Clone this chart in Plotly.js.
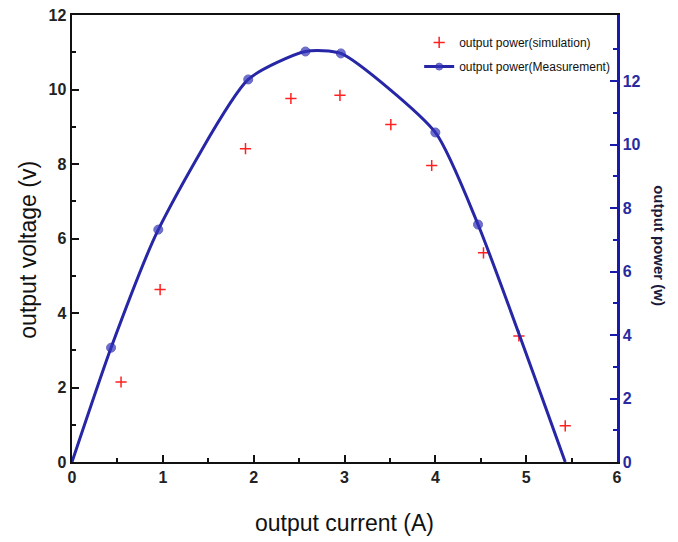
<!DOCTYPE html>
<html>
<head>
<meta charset="utf-8">
<script src="https://cdn.plot.ly/plotly-3.0.1.min.js"></script>
<style>
html,body{margin:0;padding:0;background:#fff;}
#chart{width:678px;height:542px;}
</style>
</head>
<body>
<div id="chart"></div>
<script>
// Output current (A) and output power (W)
const simCurrent = [0.54, 0.97, 1.91, 2.41, 2.95, 3.51, 3.96, 4.53, 4.92, 5.43];
const simPower   = [2.52, 5.43, 9.87, 11.45, 11.55, 10.63, 9.34, 6.59, 3.97, 1.14];

const measCurrent = [0, 0.43, 0.95, 1.94, 2.57, 2.96, 4.0, 4.47, 5.43];
const measPower   = [0, 3.60, 7.32, 12.05, 12.93, 12.87, 10.38, 7.48, 0];

const leftTicks  = [0, 2, 4, 6, 8, 10, 12];
const rightTicks = [0, 2, 4, 6, 8, 10, 12];

const simName  = 'output power(simulation)';
const measName = 'output power(Measurement)';
const xTitle = 'output current (A)';
const yTitle = 'output voltage (v)';
const y2Title = 'output power (w)';

const blue = '#2626a6';
const font = 'Arial, Liberation Sans, sans-serif';

const traces = [
  { // keeps the left voltage axis drawn
    x: [], y: [], yaxis: 'y', type: 'scatter', mode: 'markers', showlegend: false, hoverinfo: 'skip'
  },
  {
    x: simCurrent, y: simPower, yaxis: 'y2', type: 'scatter', mode: 'markers',
    name: simName, legend: 'legend',
    marker: {symbol: 'cross-thin', size: 8, color: '#ff2020', line: {color: '#ff2020', width: 1.5}}
  },
  {
    x: measCurrent, y: measPower, yaxis: 'y2', type: 'scatter', mode: 'lines+markers',
    name: measName, legend: 'legend2',
    line: {color: blue, width: 3, shape: 'spline', smoothing: 0.6},
    marker: {symbol: 'circle', size: measCurrent.map((v, i) => (i === 0 || i === measCurrent.length - 1) ? 0 : 9), color: '#3333bb'}
  }
];

const legendFont = {family: font, size: 12, color: '#111'};

const layout = {
  width: 678, height: 542,
  margin: {l: 72, r: 61, t: 15, b: 80},
  paper_bgcolor: '#fff', plot_bgcolor: '#fff',
  showlegend: true,
  legend: {x: 0.637, y: 0.971, xanchor: 'left', yanchor: 'top', bgcolor: 'rgba(0,0,0,0)', font: legendFont},
  legend2: {x: 0.637, y: 0.917, xanchor: 'left', yanchor: 'top', bgcolor: 'rgba(0,0,0,0)', font: legendFont},
  xaxis: {
    range: [0, 6], dtick: 1, tick0: 0, showgrid: false, zeroline: false,
    showline: true, linecolor: '#111', linewidth: 2, mirror: true,
    ticks: 'inside', ticklen: 7, tickwidth: 2, tickcolor: '#111',
    minor: {dtick: 0.5, ticks: 'inside', ticklen: 4, tickwidth: 2, tickcolor: '#111', showgrid: false},
    tickfont: {family: font, size: 16, color: '#222', weight: 'bold'},
    title: {text: xTitle, font: {family: font, size: 23, color: '#111'}, standoff: 30}
  },
  yaxis: {
    range: [0, 12], tickmode: 'array', tickvals: leftTicks, showgrid: false, zeroline: false,
    showline: true, linecolor: '#111', linewidth: 2.5,
    ticks: 'inside', ticklen: 7, tickwidth: 2, tickcolor: '#111',
    minor: {dtick: 1, ticks: 'inside', ticklen: 4, tickwidth: 2, tickcolor: '#111', showgrid: false},
    tickfont: {family: font, size: 16, color: '#222', weight: 'bold'}
  },
  yaxis2: {
    overlaying: 'y', side: 'right', anchor: 'x',
    range: [0, 14.08], tickmode: 'array', tickvals: rightTicks, showgrid: false, zeroline: false,
    showline: true, linecolor: '#1a1aa8', linewidth: 2.5,
    ticks: 'inside', ticklen: 7, tickwidth: 2, tickcolor: '#1a1aa8',
    minor: {tickmode: 'array', tickvals: [1, 3, 5, 7, 9, 11, 13], ticks: 'inside', ticklen: 4, tickwidth: 2, tickcolor: '#1a1aa8', showgrid: false},
    tickfont: {family: font, size: 16, color: '#2a2aa0', weight: 'bold'}
  },
  annotations: [
    {
      text: yTitle, textangle: -90, xref: 'paper', yref: 'paper', x: 0, y: 0.475,
      xanchor: 'center', yanchor: 'middle', xshift: -44, showarrow: false,
      font: {family: font, size: 23, color: '#111'}
    },
    {
      text: y2Title, textangle: 90, xref: 'paper', yref: 'paper', x: 1, y: 0.485,
      xanchor: 'center', yanchor: 'middle', xshift: 43, showarrow: false,
      font: {family: font, size: 15, color: '#1a1a3a', weight: 'bold'}
    }
  ]
};

Plotly.newPlot('chart', traces, layout, {displayModeBar: false, staticPlot: true});
</script>
</body>
</html>
